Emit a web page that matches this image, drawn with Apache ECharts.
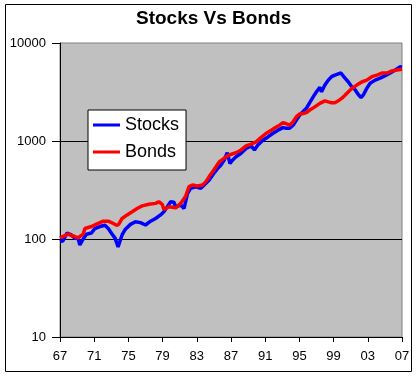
<!DOCTYPE html>
<html>
<head>
<meta charset="utf-8">
<script src="https://cdn.jsdelivr.net/npm/echarts@6/dist/echarts.min.js"></script>
<style type="text/css">
html, body {
    margin: 0;
    padding: 0;
    background: #fff;
}
#main {
    width: 418px;
    height: 378px;
}
</style>
</head>
<body>
<div id="main"></div>
<script type="text/javascript">
// tick years on the x axis (shown as 2 digits)
var tickYears = [1967, 1971, 1975, 1979, 1983, 1987, 1991, 1995, 1999, 2003, 2007];

// [year, value]
var stocks = [
	[1967.00, 94], [1967.35, 96], [1967.82, 115], [1968.33, 110], [1968.73, 102],
	[1969.12, 101], [1969.32, 87], [1969.71, 100], [1970.09, 112], [1970.68, 115],
	[1971.08, 128], [1971.67, 134], [1972.26, 138], [1972.65, 128], [1973.00, 115],
	[1973.44, 102], [1973.62, 92], [1973.79, 83], [1974.26, 110], [1974.65, 126],
	[1975.24, 141], [1975.82, 150], [1976.41, 147], [1977.00, 139], [1977.59, 152],
	[1978.18, 162], [1978.76, 176], [1979.15, 190], [1979.55, 213], [1979.94, 240],
	[1980.33, 237], [1980.53, 213], [1981.12, 222], [1981.51, 205], [1981.91, 291],
	[1982.29, 330], [1982.88, 340], [1983.47, 330], [1983.86, 356], [1984.45, 400],
	[1984.85, 450], [1985.44, 525], [1985.82, 568], [1986.21, 640], [1986.56, 760],
	[1986.73, 665], [1986.88, 590], [1987.20, 640], [1987.59, 690], [1988.18, 750],
	[1988.76, 840], [1989.35, 890], [1989.74, 810], [1990.14, 910], [1990.73, 1020],
	[1991.32, 1100], [1991.91, 1200], [1992.49, 1290], [1993.08, 1370], [1993.47, 1350],
	[1993.86, 1350], [1994.26, 1450], [1994.65, 1640], [1995.04, 1840], [1995.44, 2000],
	[1995.82, 2160], [1996.21, 2460], [1996.61, 2820], [1997.00, 3180], [1997.39, 3520],
	[1997.59, 3180], [1997.98, 3720], [1998.38, 4180], [1998.76, 4530], [1999.15, 4700],
	[1999.55, 4840], [1999.86, 4940], [2000.14, 4600], [2000.41, 4300], [2000.73, 4000],
	[2001.12, 3570], [2001.51, 3330], [2001.91, 2960], [2002.21, 2780], [2002.49, 2960],
	[2002.88, 3440], [2003.27, 3890], [2003.86, 4180], [2004.45, 4380], [2005.04, 4640],
	[2005.62, 4940], [2006.21, 5300], [2006.80, 5710], [2007.00, 5700]
];

var bonds = [
	[1967.00, 103], [1967.94, 112], [1968.73, 106], [1969.12, 103], [1969.71, 112],
	[1969.91, 128], [1970.68, 134], [1971.27, 142], [1972.06, 152], [1972.65, 152],
	[1973.24, 144], [1973.62, 138], [1973.86, 141], [1974.26, 162], [1974.85, 176],
	[1975.44, 190], [1976.02, 205], [1976.61, 218], [1977.39, 226], [1978.18, 231],
	[1978.56, 240], [1978.96, 226], [1979.15, 200], [1979.74, 213], [1979.94, 220],
	[1980.53, 208], [1981.12, 231], [1981.71, 275], [1982.09, 342], [1982.49, 356],
	[1983.08, 348], [1983.67, 356], [1984.06, 385], [1984.45, 433], [1984.85, 486],
	[1985.24, 546], [1985.62, 612], [1986.02, 650], [1986.41, 690], [1986.80, 720],
	[1987.00, 690], [1987.59, 760], [1988.18, 810], [1988.76, 890], [1989.35, 930],
	[1989.94, 980], [1990.53, 1090], [1991.12, 1200], [1991.71, 1290], [1992.29, 1390],
	[1992.68, 1450], [1993.08, 1540], [1993.47, 1500], [1993.86, 1450], [1994.26, 1570],
	[1994.65, 1770], [1995.04, 1890], [1995.44, 1910], [1995.82, 1950], [1996.21, 2070],
	[1996.80, 2230], [1997.39, 2420], [1997.98, 2570], [1998.38, 2510], [1998.76, 2460],
	[1999.15, 2460], [1999.55, 2570], [1999.94, 2720], [2000.33, 2930], [2000.53, 3040],
	[2001.12, 3440], [2001.71, 3720], [2002.29, 4000], [2002.88, 4180], [2003.47, 4530],
	[2004.06, 4700], [2004.65, 4940], [2005.24, 4940], [2005.82, 5180], [2006.41, 5300],
	[2007.00, 5400]
];

var myChart = echarts.init(document.getElementById('main'));
var font = 'Arial, "Liberation Sans", sans-serif';

option = {
	backgroundColor: '#fff',
	animation: false,
	title: {
		text: 'Stocks Vs Bonds',
		left: 136,
		top: 9,
		padding: 0,
		textStyle: {
			fontFamily: font,
			fontSize: 19,
			fontWeight: 'bold',
			color: '#000'
		}
	},
	legend: {
		orient: 'vertical',
		left: 88,
		top: 110,
		padding: [6, 7, 9, 5],
		itemGap: 9,
		itemWidth: 27,
		itemHeight: 3,
		backgroundColor: '#fff',
		borderColor: '#000',
		borderWidth: 1,
		borderRadius: 0,
		icon: 'rect',
		textStyle: {
			fontFamily: font,
			fontSize: 18,
			color: '#000'
		},
		data: ['Stocks', 'Bonds']
	},
	graphic: [{
		type: 'rect',
		shape: { x: 5.5, y: 4.5, width: 406, height: 367 },
		style: { fill: null, stroke: '#000', lineWidth: 1 },
		silent: true
	}],
	grid: {
		left: 60,
		right: 16,
		top: 43,
		bottom: 41,
		show: true,
		backgroundColor: '#c0c0c0',
		borderColor: '#808080',
		borderWidth: 1
	},
	xAxis: {
		type: 'value',
		min: 1967,
		max: 2007,
		splitLine: { show: false },
		axisLine: { show: true, onZero: false, lineStyle: { color: '#000', width: 1 } },
		axisTick: {
			show: true,
			length: 5,
			customValues: tickYears,
			lineStyle: { color: '#000' }
		},
		axisLabel: {
			customValues: tickYears,
			margin: 13,
			fontFamily: font,
			fontSize: 13,
			color: '#000',
			formatter: function (v) {
				var s = String(Math.round(v) % 100);
				return s.length < 2 ? '0' + s : s;
			}
		}
	},
	yAxis: {
		type: 'log',
		logBase: 10,
		min: 10,
		max: 10000,
		axisLine: { show: true, lineStyle: { color: '#000', width: 1 } },
		axisTick: { show: true, length: 8, lineStyle: { color: '#000' } },
		axisLabel: {
			margin: 14,
			fontFamily: font,
			fontSize: 13,
			color: '#000',
			formatter: function (v) {
				return String(Math.round(v));
			}
		},
		splitLine: {
			show: true,
			showMinLine: false,
			showMaxLine: false,
			lineStyle: { color: '#000', width: 1 }
		},
		minorTick: { show: false }
	},
	series: [
		{
			name: 'Stocks',
			type: 'line',
			data: stocks,
			showSymbol: false,
			color: '#0000ff',
			lineStyle: { color: '#0000ff', width: 3.5 }
		},
		{
			name: 'Bonds',
			type: 'line',
			data: bonds,
			showSymbol: false,
			color: '#ff0000',
			lineStyle: { color: '#ff0000', width: 3.5 }
		}
	]
};
myChart.setOption(option);
</script>
</body>
</html>
